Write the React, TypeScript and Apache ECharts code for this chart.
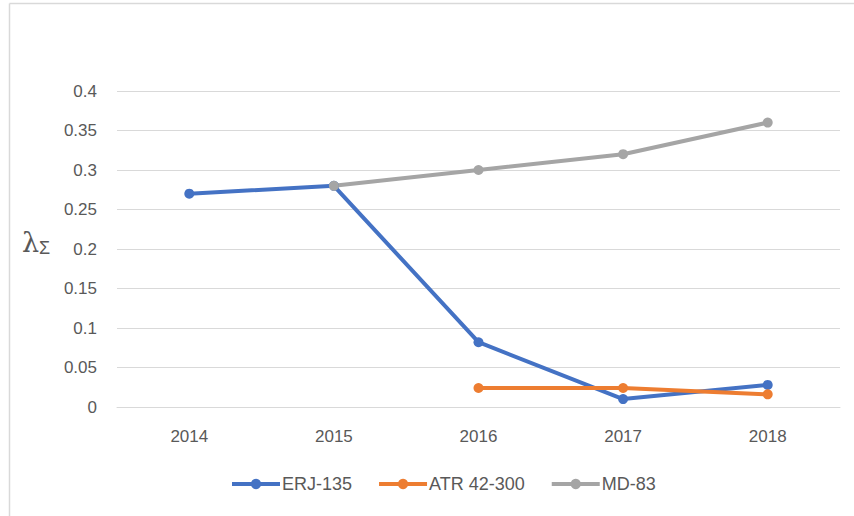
import React, { useEffect, useRef } from "react";
import * as echarts from "echarts";

const years = ["2014", "2015", "2016", "2017", "2018"];
const erj135 = [0.27, 0.28, 0.082, 0.01, 0.028];
const atr42300 = [null, null, 0.024, 0.024, 0.016];
const md83 = [null, 0.28, 0.3, 0.32, 0.36];
const yTicks = [0, 0.05, 0.1, 0.15, 0.2, 0.25, 0.3, 0.35, 0.4];

const FONT = "Liberation Sans";
const TXT = "#595959";

export default function App() {
  const ref = useRef<HTMLDivElement>(null);
  useEffect(() => {
    document.body.style.margin = "0";
    const chart = echarts.init(ref.current!, null, { renderer: "svg" });
    const mk = (name: string, data: any[], color: string) => ({
      name,
      type: "line",
      data,
      color,
      symbol: "circle",
      symbolSize: 10,
      lineStyle: { width: 4, color },
      itemStyle: { color },
      connectNulls: false,
    });
    chart.setOption({
      animation: false,
      backgroundColor: "#ffffff",
      textStyle: { fontFamily: FONT },
      grid: { left: 117, right: 14, top: 91, bottom: 109, containLabel: false },
      xAxis: {
        type: "category",
        data: years,
        boundaryGap: true,
        axisLine: { show: true, lineStyle: { color: "#d9d9d9", width: 1 } },
        axisTick: { show: false },
        axisLabel: { color: TXT, fontSize: 17, fontFamily: FONT, margin: 21 },
      },
      yAxis: {
        type: "value",
        min: yTicks[0],
        max: yTicks[yTicks.length - 1],
        interval: 0.05,
        axisLine: { show: false },
        axisTick: { show: false },
        splitLine: { lineStyle: { color: "#d9d9d9", width: 1 } },
        axisLabel: {
          color: TXT,
          fontSize: 17,
          fontFamily: FONT,
          margin: 20,
          formatter: (v: number) => String(parseFloat(v.toFixed(2))),
        },
      },
      legend: {
        left: 225,
        top: 470,
        itemWidth: 48,
        itemHeight: 13,
        itemGap: 25,
        lineStyle: { width: 4 },
        textStyle: { color: TXT, fontSize: 18, fontFamily: FONT, padding: [0, 0, 0, -3] },
        data: ["ERJ-135", "ATR 42-300", "MD-83"],
      },
      graphic: [
        { type: "line", shape: { x1: 9.5, y1: 3.5, x2: 854, y2: 3.5 }, style: { stroke: "#d9d9d9", lineWidth: 1.5 } },
        { type: "line", shape: { x1: 9.5, y1: 3.5, x2: 9.5, y2: 516 }, style: { stroke: "#d9d9d9", lineWidth: 1.5 } },
        {
          type: "text",
          left: 22,
          top: 229,
          style: {
            text: "{a|λ}{b|Σ}",
            rich: {
              a: { fontSize: 27, fill: TXT, fontFamily: "DejaVu Serif" },
              b: { fontSize: 18, fill: TXT, fontFamily: FONT, verticalAlign: "bottom", padding: [10, 0, 0, 0] },
            },
          },
        },
      ],
      series: [
        mk("ERJ-135", erj135, "#4472C4"),
        mk("ATR 42-300", atr42300, "#ED7D31"),
        mk("MD-83", md83, "#A5A5A5"),
      ],
    });
    return () => chart.dispose();
  }, []);
  return <div ref={ref} style={{ width: 854, height: 516 }} />;
}
